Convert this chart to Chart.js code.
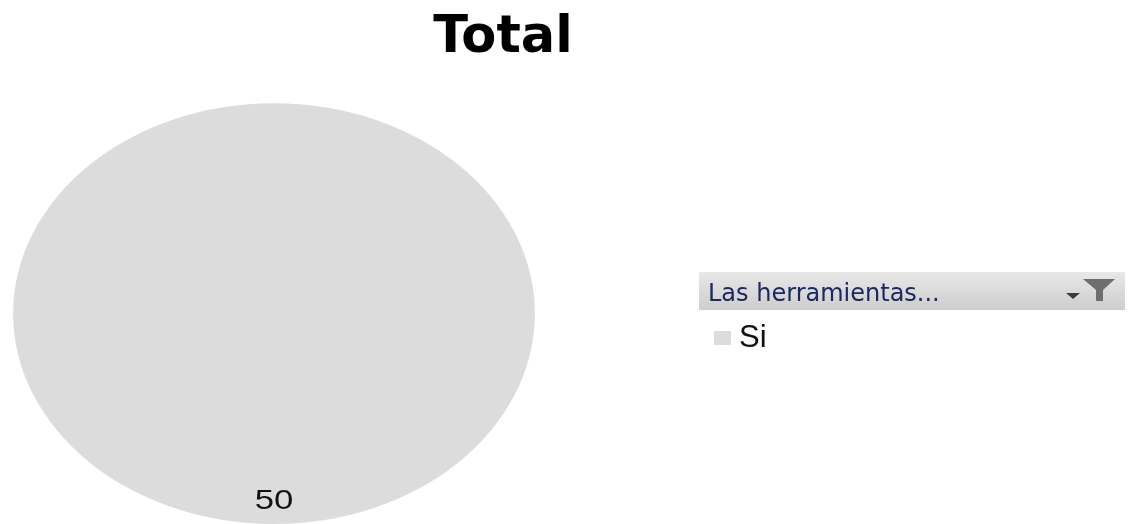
<!DOCTYPE html>
<html>
<head>
<meta charset="utf-8">
<script src="https://cdn.jsdelivr.net/npm/chart.js@4.4.1/dist/chart.umd.min.js"></script>
<style>
  html, body { margin: 0; padding: 0; background: #fff; }
  #wrap { width: 1140px; height: 524px; }
</style>
</head>
<body>
<div id="wrap"><canvas id="myChart" width="1140" height="524"></canvas></div>
<script>
const categories = ['Si'];
const values = [50];
const sliceColors = ['#dcdcdc'];
const fieldName = 'Las herramientas...';
const chartTitle = 'Total';

// the pie in the picture is stretched sideways
const pieX = 274;
const stretchX = 1.24;

const ellipsePie = {
  id: 'ellipsePie',
  beforeDatasetsDraw(chart) {
    const a = chart.chartArea;
    const cx = (a.left + a.right) / 2, cy = (a.top + a.bottom) / 2;
    const ctx = chart.ctx;
    ctx.save();
    ctx.translate(pieX, cy);
    ctx.scale(stretchX, 1);
    ctx.translate(-cx, -cy);
  },
  afterDatasetsDraw(chart) {
    const ctx = chart.ctx;
    const meta = chart.getDatasetMeta(0);
    meta.data.forEach((arc, i) => {
      const p = arc.getProps(['x', 'y', 'startAngle', 'endAngle', 'outerRadius'], true);
      const mid = (p.startAngle + p.endAngle) / 2;
      const r = p.outerRadius - 23;
      ctx.fillStyle = '#111';
      ctx.font = '28px "Liberation Sans", Arial, sans-serif';
      ctx.textAlign = 'center';
      ctx.textBaseline = 'middle';
      ctx.fillText(String(chart.data.datasets[0].data[i]), p.x + Math.cos(mid) * r, p.y + Math.sin(mid) * r);
    });
    ctx.restore();
  }
};

const pivotLegend = {
  id: 'pivotLegend',
  afterDraw(chart) {
    const ctx = chart.ctx;
    ctx.save();
    // field button
    const g = ctx.createLinearGradient(0, 272, 0, 310);
    g.addColorStop(0, '#e8e8e8');
    g.addColorStop(1, '#cdcdcd');
    ctx.fillStyle = g;
    ctx.fillRect(699, 272, 426, 38);
    ctx.fillStyle = '#1e2860';
    ctx.font = '24px "DejaVu Sans", sans-serif';
    ctx.textAlign = 'left';
    ctx.textBaseline = 'alphabetic';
    ctx.fillText(fieldName, 708, 301);
    // dropdown arrow
    ctx.fillStyle = '#3c3c3c';
    ctx.beginPath();
    ctx.moveTo(1066, 293); ctx.lineTo(1080, 293); ctx.lineTo(1073, 299); ctx.closePath();
    ctx.fill();
    // filter funnel
    ctx.fillStyle = '#6e6e6e';
    ctx.beginPath();
    ctx.moveTo(1083, 279); ctx.lineTo(1115, 279); ctx.lineTo(1103, 290);
    ctx.lineTo(1103, 301); ctx.lineTo(1096, 301); ctx.lineTo(1096, 290); ctx.closePath();
    ctx.fill();
    // items
    const ds = chart.data.datasets[0];
    chart.data.labels.forEach((lab, i) => {
      const y = 338 + i * 34;
      ctx.fillStyle = ds.backgroundColor[i];
      ctx.fillRect(714, y - 7, 17, 14);
      ctx.fillStyle = '#111';
      ctx.font = '31px "Liberation Sans", Arial, sans-serif';
      ctx.textBaseline = 'middle';
      ctx.fillText(lab, 739, y);
    });
    ctx.restore();
  }
};

new Chart(document.getElementById('myChart'), {
  type: 'pie',
  data: {
    labels: categories,
    datasets: [{
      data: values,
      backgroundColor: sliceColors,
      borderWidth: 0
    }]
  },
  options: {
    responsive: false,
    animation: false,
    layout: { padding: { left: 0, right: 134, top: 0, bottom: 0 } },
    plugins: {
      legend: { display: false },
      tooltip: { enabled: false },
      title: {
        display: true,
        text: chartTitle,
        color: '#000',
        font: { family: '"DejaVu Sans", sans-serif', size: 51, weight: 'bold' },
        padding: { top: 8, bottom: 34 }
      }
    }
  },
  plugins: [ellipsePie, pivotLegend]
});
</script>
</body>
</html>
